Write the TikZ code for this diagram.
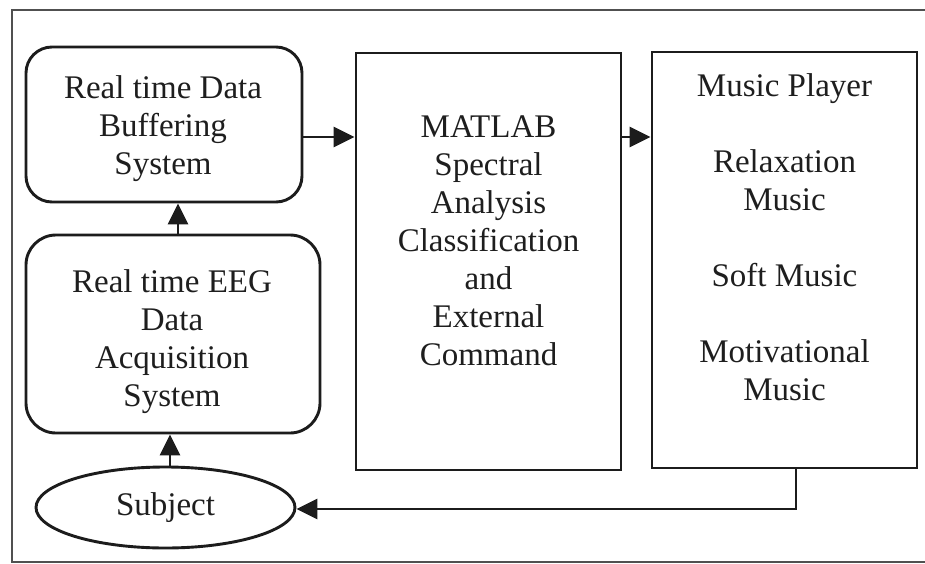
\documentclass[tikz,border=0pt]{standalone}
\usepackage{fontspec}
\setmainfont{Liberation Serif}
\usetikzlibrary{shapes.geometric,arrows.meta}
\definecolor{ink}{HTML}{1C1C1C}
\definecolor{txt}{HTML}{1E1E1E}
\definecolor{frame}{HTML}{505050}
\begin{document}
\begin{tikzpicture}[x=1pt,y=-1pt,
  boxline/.style={draw=ink,line width=2.9pt},
  rbox/.style={boxline,rectangle,rounded corners=#1,inner sep=0pt},
  sbox/.style={boxline,rectangle,inner sep=0pt},
  label text/.style={text=txt,align=center,inner sep=0pt,font=\fontsize{33}{38}\selectfont},
  conn/.style={draw=ink,line width=2.7pt,-{Triangle[length=21pt,width=20pt]}}]
\useasboundingbox (0,0) rectangle (925,564);
\fill[white] (0,0) rectangle (925,564);
\draw[frame,line width=2pt] (930,10) -- (12,10) -- (12,562) -- (930,562);
% boxes
\node[rbox=26pt,minimum width=276pt,minimum height=155pt] (buf) at (164,124.5) {};
\node[rbox=30pt,minimum width=294pt,minimum height=198pt] (acq) at (173,334) {};
\node[sbox,minimum width=265pt,minimum height=417pt] (mat) at (488.5,261.5) {};
\node[sbox,minimum width=265pt,minimum height=416pt] (mus) at (784.5,260) {};
\node[boxline,ellipse,minimum width=259pt,minimum height=81pt,inner sep=0pt,label text] (subj) at (165.5,507.5) {Subject};
% texts
\node[label text] (buftext) at (163,129) {Real time Data\\Buffering\\System};
\node[label text] (acqtext) at (172,342) {Real time EEG\\Data\\Acquisition\\System};
\node[label text] (mattext) at (488.5,241) {MATLAB\\Spectral\\Analysis\\Classification\\and\\External\\Command};
\node[label text] (mustext) at (784.5,237.5) {Music Player\\[38pt]Relaxation\\Music\\[38pt]Soft Music\\[38pt]Motivational\\Music};
% connectors
\coordinate (ay) at (0,137);
\draw[conn] (buf.east |- ay) -- (mat.west |- ay);
\draw[conn] (mat.east |- ay) -- (mus.west |- ay);
\coordinate (ax1) at (178,0);
\draw[conn] (acq.north -| ax1) -- (buf.south -| ax1);
\coordinate (ax2) at (170,0);
\draw[conn] (subj.north -| ax2) -- (acq.south -| ax2);
\coordinate (fx) at (796,509);
\draw[conn] (mus.south -| fx) -- (fx) -- (subj.east |- fx);
\end{tikzpicture}
\end{document}
